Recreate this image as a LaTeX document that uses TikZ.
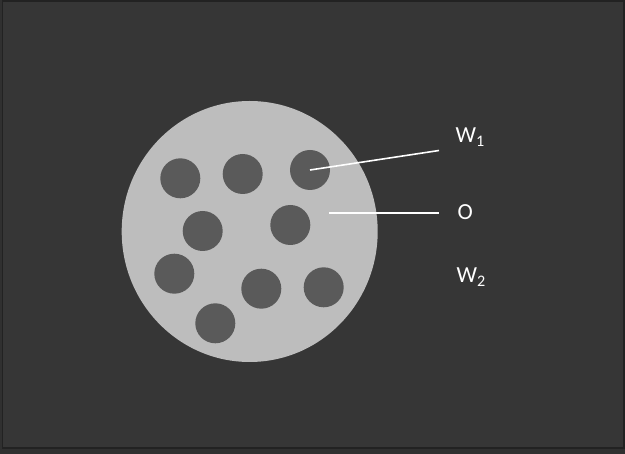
\documentclass[tikz,border=0pt]{standalone}
\usepackage{fontspec}
\setmainfont{Carlito}
\usetikzlibrary{shapes.geometric}
\definecolor{PanelDark}{HTML}{363636}
\definecolor{PanelEdge}{HTML}{222222}
\definecolor{PanelOuter}{HTML}{303030}
\definecolor{DiscGray}{HTML}{BDBDBD}
\definecolor{HoleGray}{HTML}{5A5A5A}
\tikzset{
  disc/.style={ellipse, fill=DiscGray, draw=none, minimum width=256pt, minimum height=261pt, inner sep=0pt},
  hole/.style={circle, fill=HoleGray, draw=none, minimum size=40pt, inner sep=0pt},
  leader/.style={draw=white, line width=1.6pt},
  tag/.style={text=white, font=\fontsize{23}{26}\selectfont, inner sep=0pt, anchor=base west},
}
\begin{document}
\begin{tikzpicture}[x=1pt,y=-1pt]
    \useasboundingbox (0,0) rectangle (625,454);
    % background panel
    \fill[PanelOuter] (0,0) rectangle (625,454);
    \fill[PanelDark] (2.5,1) rectangle (624,448);
    \draw[PanelEdge, line width=1.5pt] (2.5,1) rectangle (624,448);
    % sample with inclusions
    \node[disc] (disc) at (249.7,231.5) {};
    \node[hole] (h1) at (180.3,178.3) {};
    \node[hole] (h2) at (242.7,174) {};
    \node[hole] (h3) at (310,170) {};
    \node[hole] (h4) at (202.7,231) {};
    \node[hole] (h5) at (290.3,225) {};
    \node[hole] (h6) at (174.3,273.7) {};
    \node[hole] (h7) at (261.3,288.7) {};
    \node[hole] (h8) at (323.7,287.3) {};
    \node[hole] (h9) at (215.3,323.3) {};
    % labels
    \coordinate (w1end) at (439,150.5);
    \coordinate (ostart) at (329.3,213);
    \coordinate (oend) at (439,213);
    \node[tag] (w1) at (455.5,143) {W\textsubscript{1}};
    \node[tag] (o) at (457.5,219.5) {O};
    \node[tag] (w2) at (456.5,283) {W\textsubscript{2}};
    \draw[leader] (h3.center) -- (w1end);
    \draw[leader] (ostart) -- (oend);
  \end{tikzpicture}
\end{document}
